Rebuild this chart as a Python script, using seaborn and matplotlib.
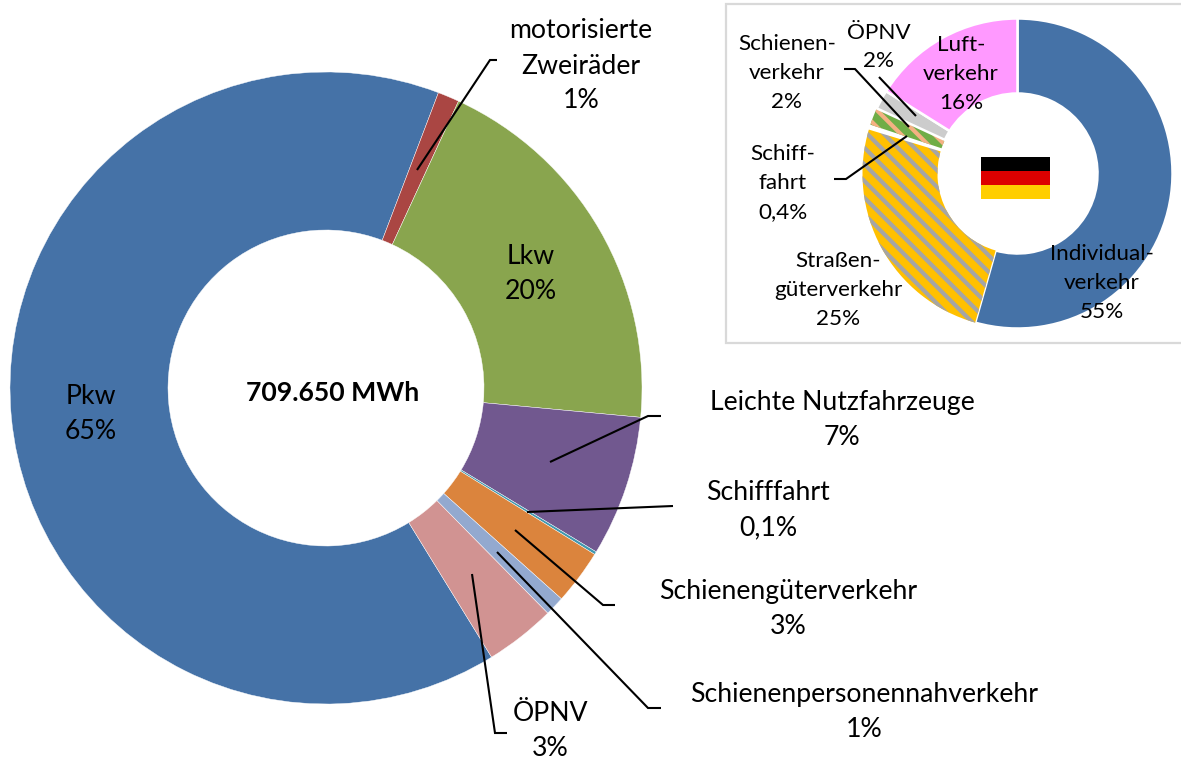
import seaborn as sns
import matplotlib.pyplot as plt
from matplotlib.patches import Rectangle

# main donut, clockwise from Pkw
main_names = ["Pkw", "motorisierte Zweiräder", "Lkw", "Leichte Nutzfahrzeuge", "Schifffahrt",
              "Schienengüterverkehr", "Schienenpersonennahverkehr", "ÖPNV"]
main_values = [64.6, 1.1, 19.6, 7.2, 0.15, 2.8, 1.0, 3.6]
main_colors = ["#4572A7", "#AA4643", "#89A54E", "#71588F", "#4198AF", "#DB843D", "#93A9CF", "#D19392"]

# inset donut for Germany, clockwise from the top
inset_names = ["Individualverkehr", "Straßengüterverkehr", "Schifffahrt",
               "Schienenverkehr", "ÖPNV", "Luftverkehr"]
inset_values = [54.4, 25.3, 0.4, 1.8, 2.0, 16.1]
inset_colors = ["#4572A7", "#FFC000", "#FFFFFF", "#70AD47", "#CCCCCC", "#FF99FF"]
inset_explode = [0.02, 0.02, 0.03, 0.03, 0.03, 0.02]

flag_colors = ["#000000", "#DD0000", "#FFCE00"]

sns.set_theme(style="white")
plt.rcParams["font.family"] = ["Lato", "DejaVu Sans"]
plt.rcParams["hatch.linewidth"] = 3.0

W, H = 1181, 762
fig = plt.figure(figsize=(W / 100, H / 100), dpi=100)
ax = fig.add_axes([0, 0, 1, 1])


def Y(py):
    return H - py


# frame behind the inset
ax.add_patch(Rectangle((726, Y(343)), 470, 339, facecolor="white", edgecolor="#D9D9D9", lw=1.6, zorder=0))

ax.pie(main_values, colors=sns.color_palette(main_colors), center=(326, Y(388)), radius=316,
       startangle=-58.4, counterclock=False,
       wedgeprops=dict(width=158, edgecolor="white", linewidth=0.3))

wedges, _ = ax.pie(inset_values, colors=sns.color_palette(inset_colors), center=(1017.5, Y(173.5)), radius=155,
                   startangle=90, counterclock=False, explode=inset_explode,
                   wedgeprops=dict(width=75, edgecolor="white", linewidth=1.8))
# stripes take the edge colour, so these two lose their outline
wedges[1].set_hatch("\\\\")
wedges[1].set_edgecolor("#A5A5A5")
wedges[1].set_linewidth(0)
wedges[3].set_hatch("\\\\")
wedges[3].set_edgecolor("#F4B183")
wedges[3].set_linewidth(0)

ax.set_xlim(0, W)
ax.set_ylim(0, H)
ax.set_aspect("equal")
ax.axis("off")

# flag in the hole
for i, c in enumerate(flag_colors):
    ax.add_patch(Rectangle((981, Y(157 + 14 * (i + 1))), 69, 14, facecolor=c, edgecolor="none", zorder=3))


def leader(*pts, lw=1.5):
    ax.plot([p[0] for p in pts], [Y(p[1]) for p in pts], color="black", lw=lw, zorder=4,
            solid_capstyle="butt", solid_joinstyle="miter")


leader((417, 170), (490, 60), (497, 60))
leader((550, 462), (648, 416), (661, 416))
leader((527, 512), (673, 506))
leader((515, 530), (603, 605), (615, 605))
leader((497, 552), (648, 708), (661, 708))
leader((472, 574), (495, 733), (507, 733))
leader((879, 77), (916, 116))
leader((844, 69), (855, 69), (909, 127))
leader((834, 179), (846, 179), (907, 136))


def label(x, y, s, size=19.2, spacing=1.5, **kw):
    ax.text(x, Y(y), s, ha="center", va="center", fontsize=size, linespacing=spacing,
            color="black", zorder=5, **kw)


label(581, 66, "motorisierte\nZweiräder\n1%")
label(531, 274, "Lkw\n20%")
label(91, 414, "Pkw\n65%")
label(333, 393, "709.650 MWh", fontweight="bold")
label(842, 420, "Leichte Nutzfahrzeuge\n7%")
label(768, 510, "Schifffahrt\n0,1%")
label(788, 609, "Schienengüterverkehr\n3%")
label(864, 712, "Schienenpersonennahverkehr\n1%")
label(550, 731, "ÖPNV\n3%")

small = dict(size=16.2, spacing=1.55)
label(879, 47, "ÖPNV\n2%", **small)
label(787, 73, "Schienen-\nverkehr\n2%", **small)
label(961, 74, "Luft-\nverkehr\n16%", **small)
label(783, 183, "Schiff-\nfahrt\n0,4%", **small)
label(838, 290, "Straßen-\ngüterverkehr\n25%", **small)
label(1102, 283, "Individual-\nverkehr\n55%", **small)

fig.savefig("out.png", dpi=100, facecolor="white")
